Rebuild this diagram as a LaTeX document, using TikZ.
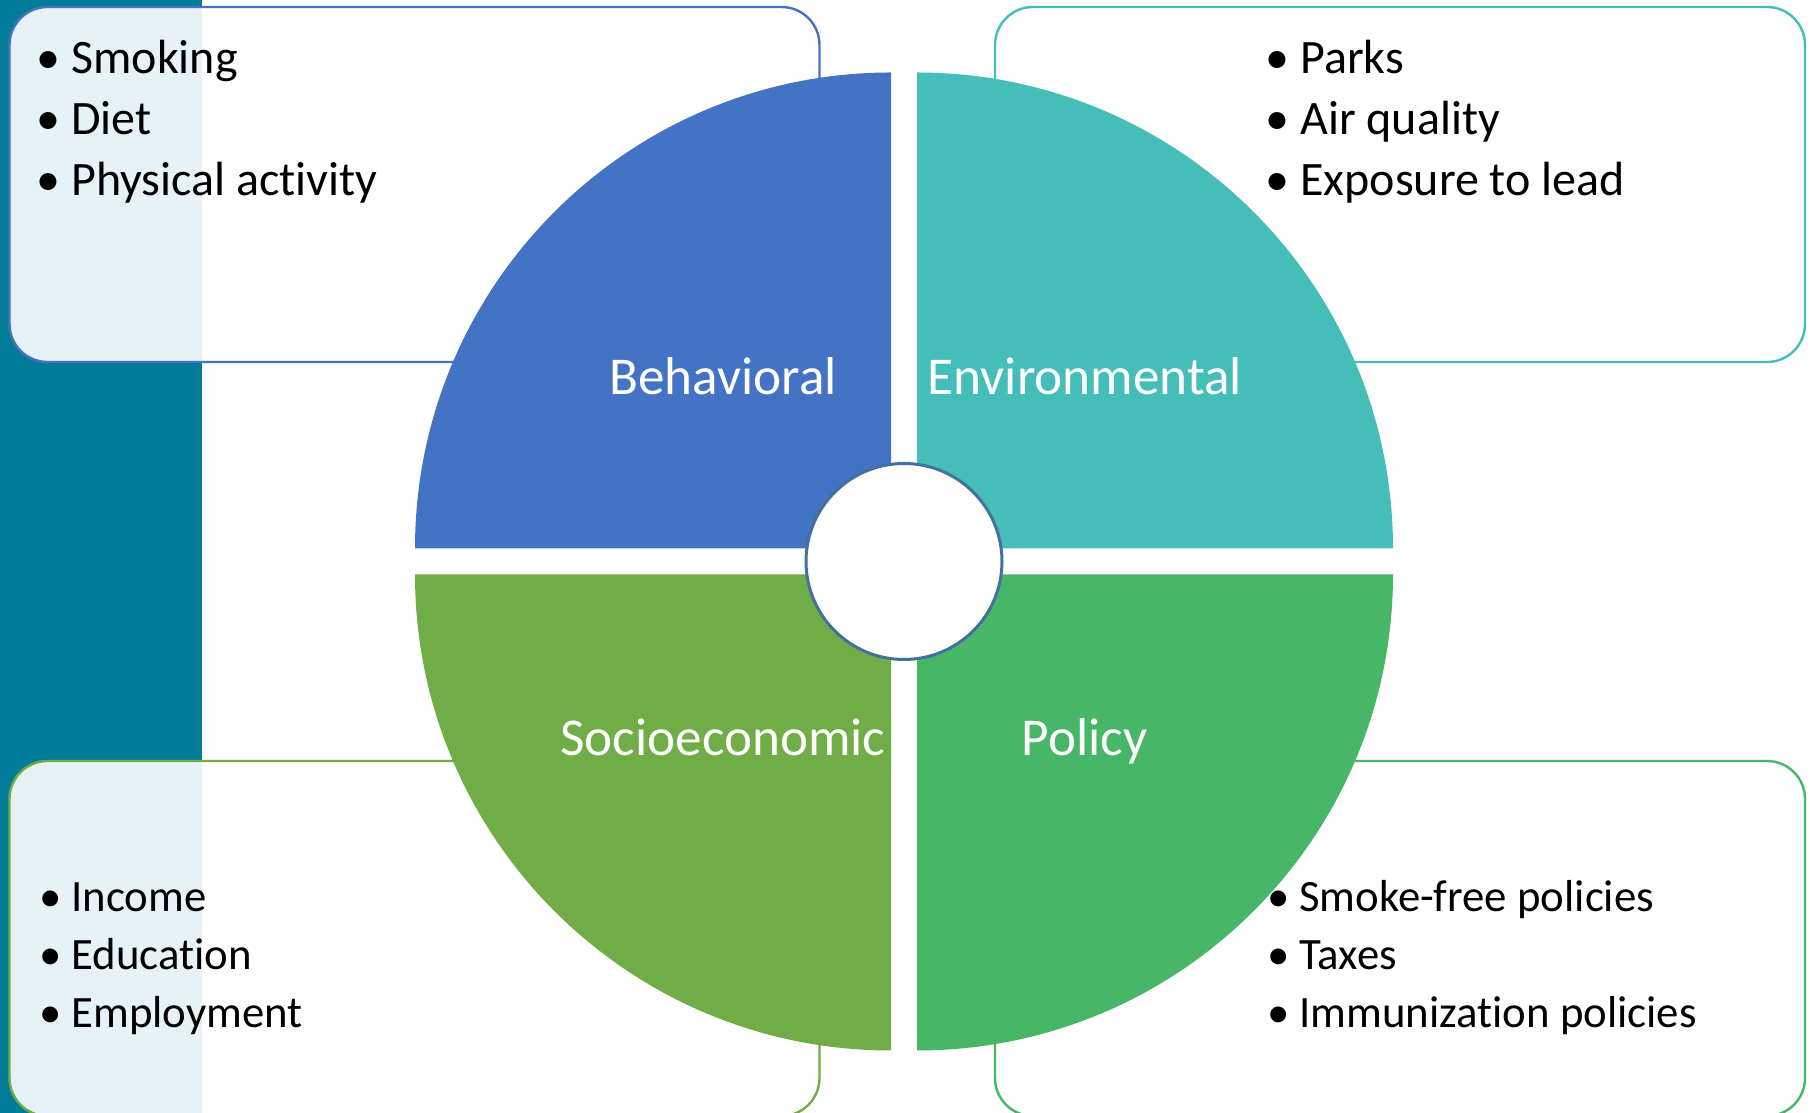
\documentclass[tikz,border=0pt]{standalone}
\usepackage{fontspec}
\setmainfont{Carlito}[Ligatures={NoCommon}]
\usetikzlibrary{positioning}

\definecolor{stripteal}{HTML}{037C9A}
\definecolor{behblue}{HTML}{4472C4}
\definecolor{envteal}{HTML}{45BDB8}
\definecolor{socgreen}{HTML}{70AD47}
\definecolor{polgreen}{HTML}{47B767}
\definecolor{hubblue}{HTML}{41719C}

\newcommand{\itm}[1]{\llap{\makebox[0.72em][l]{\textbullet}}#1}

\begin{document}
\begin{tikzpicture}[
            x=0.5pt, y=0.5pt,
            box/.style={draw=#1, line width=1.2pt, rounded corners=19pt, fill=white, fill opacity=0.9,
                        minimum width=405pt, minimum height=177.5pt, inner sep=0pt},
            lbl/.style={text=white, font=\fontsize{26.6}{32}\selectfont, inner sep=0pt, anchor=base},
            itop/.style={font=\fontsize{24}{29}\selectfont, inner sep=0pt, anchor=base west},
            ibot/.style={font=\fontsize{22.4}{27}\selectfont, inner sep=0pt, anchor=base west}
        ]
        \useasboundingbox (0,0) rectangle (1810,1113);
        \fill[stripteal] (0,0) rectangle (202,1113);

        % Outer boxes
        \node[box=behblue]  (boxB) at (414.5,928.5) {};
        \node[box=envteal]  (boxE) at (1400,928.5)  {};
        \node[box=socgreen] (boxS) at (414.5,174.5) {};
        \node[box=polgreen] (boxP) at (1400,174.5)  {};

        % Quarter discs
        \fill[behblue]  (891,564.5) -- ++(0,476)  arc[start angle=90,  end angle=180, radius=476] -- cycle;
        \fill[envteal]  (917,564.5) -- ++(476,0)  arc[start angle=0,   end angle=90,  radius=476] -- cycle;
        \fill[socgreen] (891,538.5) -- ++(-476,0) arc[start angle=180, end angle=270, radius=476] -- cycle;
        \fill[polgreen] (917,538.5) -- ++(0,-476) arc[start angle=270, end angle=360, radius=476] -- cycle;

        % Hub
        \node[circle, draw=hubblue, line width=1.5pt, fill=white, minimum size=98pt, inner sep=0pt] (hub) at (904,551.5) {};

        % Quadrant labels
        \node[lbl] (lB) at (723,718)    {Behavioral};
        \node[lbl] (lE) at (1085,718)   {Environmental};
        \node[lbl] (lS) at (723,357)    {Socioeconomic};
        \node[lbl] (lP) at (1084.5,357) {Policy};

        % Behavioral items
        \node[itop] (b1) at (71,1039) {\itm{Smoking}};
        \node[itop] (b2) at (71,978)  {\itm{Diet}};
        \node[itop] (b3) at (71,917)  {\itm{Physical activity}};

        % Environmental items
        \node[itop] (e1) at (1300,1039) {\itm{Parks}};
        \node[itop] (e2) at (1300,978)  {\itm{Air quality}};
        \node[itop] (e3) at (1300,917)  {\itm{Exposure to lead}};

        % Socioeconomic items
        \node[ibot] (s1) at (71,201) {\itm{Income}};
        \node[ibot] (s2) at (71,143) {\itm{Education}};
        \node[ibot] (s3) at (71,85)  {\itm{Employment}};

        % Policy items
        \node[ibot] (p1) at (1299,201) {\itm{Smoke-free policies}};
        \node[ibot] (p2) at (1299,143) {\itm{Taxes}};
        \node[ibot] (p3) at (1299,85)  {\itm{Immunization policies}};
    \end{tikzpicture}
\end{document}
